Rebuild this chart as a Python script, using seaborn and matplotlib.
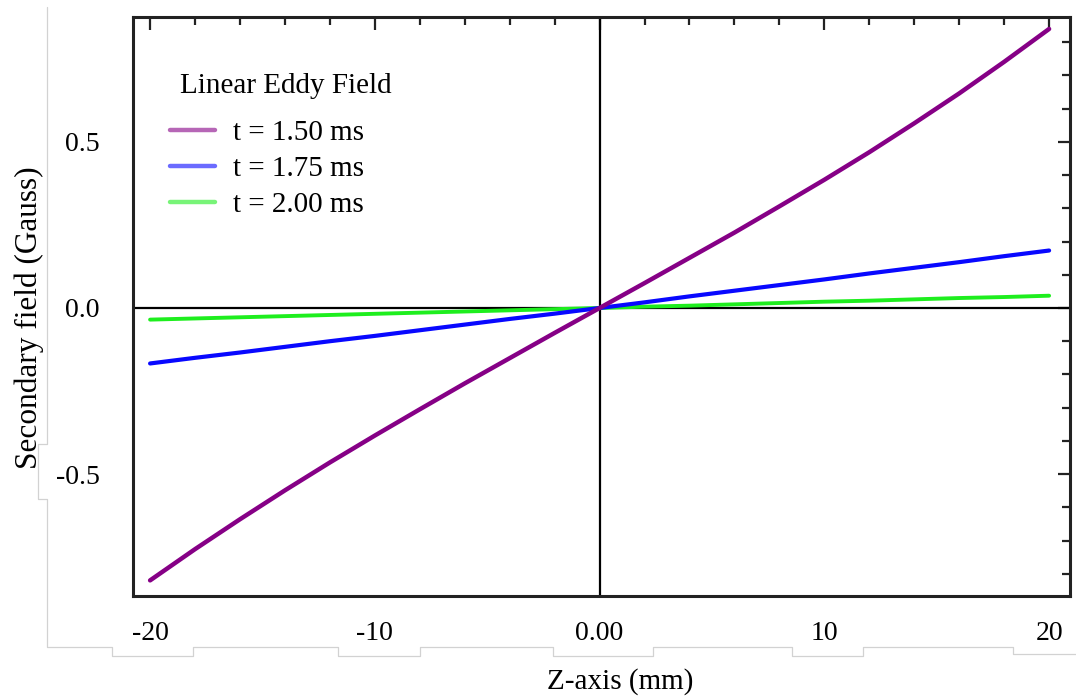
import numpy as np
import pandas as pd
import seaborn as sns
import matplotlib.pyplot as plt
from matplotlib.lines import Line2D
from matplotlib.ticker import MultipleLocator, FixedLocator, FixedFormatter

# Position along the z-axis (mm)
z_mm = [-20, -18, -16, -14, -12, -10, -8, -6, -4, -2, 0,
        2, 4, 6, 8, 10, 12, 14, 16, 18, 20]

# Secondary (eddy-current) field in Gauss at three times after switch-off
field_150 = [-0.820, -0.726, -0.636, -0.549, -0.465, -0.384, -0.305, -0.227, -0.151, -0.075, 0.0,
             0.075, 0.151, 0.227, 0.306, 0.386, 0.469, 0.556, 0.646, 0.741, 0.840]
field_175 = [-0.167, -0.150, -0.134, -0.117, -0.100, -0.084, -0.067, -0.050, -0.033, -0.017, 0.0,
             0.017, 0.035, 0.052, 0.069, 0.086, 0.104, 0.121, 0.138, 0.156, 0.173]
field_200 = [-0.035, -0.0315, -0.028, -0.0245, -0.021, -0.0175, -0.014, -0.0105, -0.007, -0.0035, 0.0,
             0.004, 0.007, 0.011, 0.015, 0.019, 0.022, 0.026, 0.030, 0.033, 0.037]

series_labels = ["t = 1.50 ms", "t = 1.75 ms", "t = 2.00 ms"]
series_colors = ["#860086", "#0808ff", "#1eee1e"]

x_tick_values = [-20, -10, 0, 10, 20]
x_tick_labels = ["-20", "-10", "0.00", "10", "20"]
y_tick_values = [-0.5, 0.0, 0.5]
y_tick_labels = ["-0.5", "0.0", "0.5"]

df = pd.DataFrame({
    "z": z_mm * 3,
    "field": field_150 + field_175 + field_200,
    "series": sum([[lab] * len(z_mm) for lab in series_labels], []),
})

sns.set_style("white")
plt.rcParams["font.family"] = ["Liberation Serif", "DejaVu Serif"]
plt.rcParams["text.color"] = "black"
plt.rcParams["axes.labelcolor"] = "black"
plt.rcParams["xtick.color"] = "black"
plt.rcParams["ytick.color"] = "black"

W, H = 1076, 700
fig = plt.figure(figsize=(W / 100, H / 100), dpi=100)
ax_l, ax_r, ax_t, ax_b = 133, 1070, 17, 596
ax = fig.add_axes([ax_l / W, 1 - ax_b / H, (ax_r - ax_l) / W, (ax_b - ax_t) / H])

# reference axes through the origin
ax.axhline(0, color="black", lw=1.6, zorder=2)
ax.axvline(0, color="black", lw=1.6, zorder=2)

# draw green first so the steeper curves sit on top
for lab, col, lw in reversed(list(zip(series_labels, series_colors, [3.2, 3.0, 2.8]))):
    sns.lineplot(data=df[df["series"] == lab], x="z", y="field", color=col,
                 lw=lw, ax=ax, legend=False, zorder=3)

ax.set_xlim(-20.76, 20.93)
ax.set_ylim(-0.867, 0.876)

ax.xaxis.set_major_locator(FixedLocator(x_tick_values))
ax.xaxis.set_major_formatter(FixedFormatter(x_tick_labels))
ax.xaxis.set_minor_locator(MultipleLocator(2))
ax.yaxis.set_major_locator(FixedLocator(y_tick_values))
ax.yaxis.set_major_formatter(FixedFormatter(y_tick_labels))
ax.yaxis.set_minor_locator(MultipleLocator(0.1))

ax.tick_params(which="both", direction="in", top=True, right=True,
               color="#222222", width=1.6, labelcolor="black")
ax.tick_params(which="major", length=9)
ax.tick_params(which="minor", length=6)
ax.tick_params(axis="x", which="major", labelsize=20, pad=18)
ax.tick_params(axis="y", which="major", labelsize=20, pad=24)

for sp in ax.spines.values():
    sp.set_color("#222222")
    sp.set_linewidth(2.2)

ax.set_xlabel("Z-axis (mm)", fontsize=21)
ax.set_ylabel("Secondary field (Gauss)", fontsize=22.5)
ax.xaxis.set_label_coords((620 - ax_l) / (ax_r - ax_l), -(668 - ax_b) / (ax_b - ax_t))
ax.yaxis.set_label_coords(-(ax_l - 44) / (ax_r - ax_l), 1 - (318 - ax_t) / (ax_b - ax_t))

handles = [Line2D([], [], color=c, lw=3.2, alpha=0.6) for c in series_colors]
leg = ax.legend(handles, series_labels, title="Linear Eddy Field", frameon=False,
                loc="upper left",
                bbox_to_anchor=((170 - ax_l) / (ax_r - ax_l), 1 - (73 - ax_t) / (ax_b - ax_t)),
                fontsize=21, title_fontsize=21, handlelength=1.55, handletextpad=0.6,
                labelspacing=0.32, borderpad=0, borderaxespad=0)
leg._legend_box.align = "left"
leg._legend_box.sep = 15
leg.get_title().set_position((10, 0))

# light outline around the panel
px = [47, 47, 38, 38, 47, 47, 112, 112, 193, 193, 338, 338, 420, 420, 553, 553,
      653, 653, 792, 792, 863, 863, 1013, 1013, 1076]
py = [7, 444, 444, 499, 499, 647, 647, 656, 656, 647, 647, 656, 656, 647, 647, 656,
      656, 647, 647, 656, 656, 647, 647, 654, 654]
fig.add_artist(Line2D([p / W for p in px], [1 - p / H for p in py],
                      color="#d2d2d2", lw=0.9))

fig.savefig("out.png", dpi=100, facecolor="white")
